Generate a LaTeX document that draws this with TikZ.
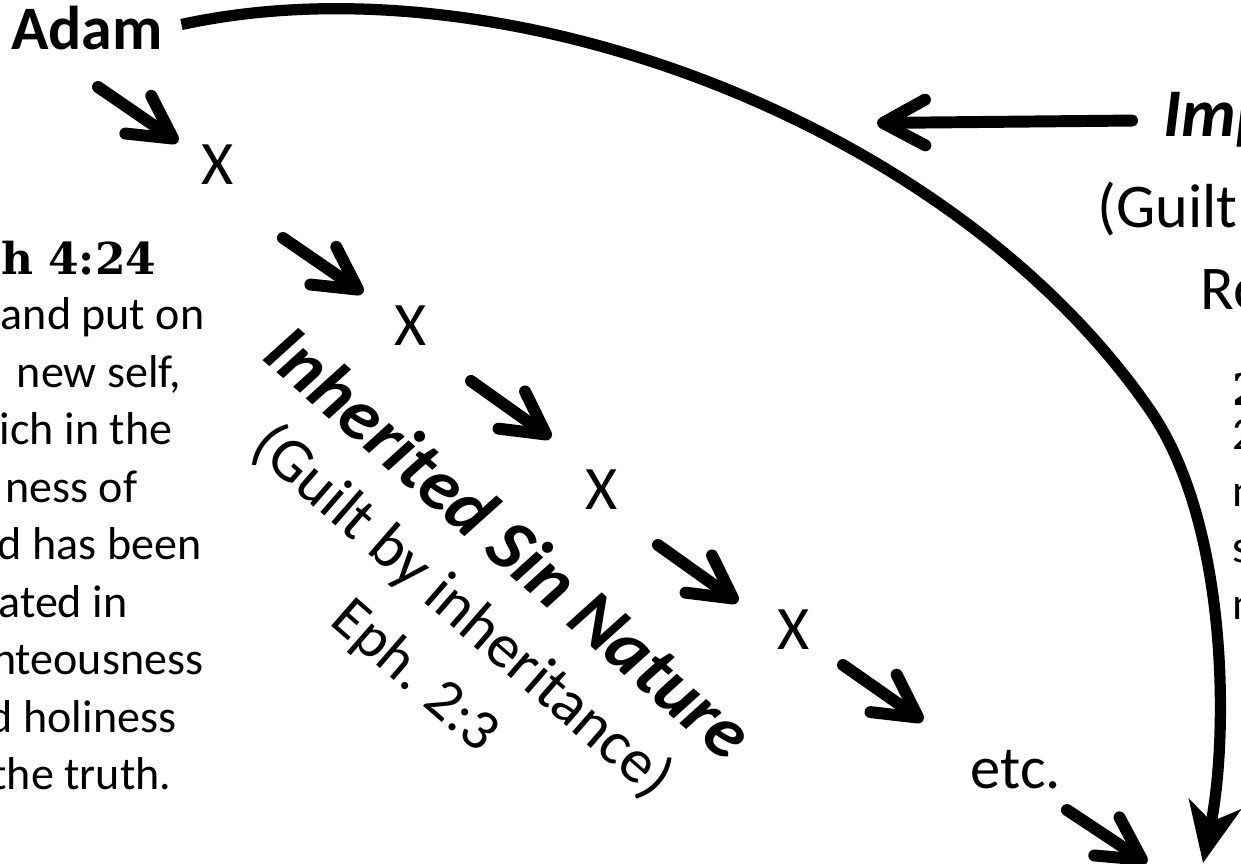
\documentclass[tikz,border=0pt]{standalone}
\usepackage{fontspec}
\setmainfont{Carlito}
\newfontfamily\slabfont{DejaVu Serif}
\usetikzlibrary{arrows.meta,calc}

\tikzset{
  flow/.style={line width=3.4pt,line cap=round,
    -{Straight Barb[length=12pt,width=13pt,line cap=round,line join=round]}},
  bigarc/.style={line width=3.2pt,-{Stealth[length=17pt,width=15pt,inset=5pt]}},
  gen/.style={inner sep=0pt,font=\fontsize{17.6}{20}\selectfont},
  verse/.style={inner sep=0pt,anchor=base east,font=\fontsize{13.1}{14.2}\selectfont},
  rverse/.style={inner sep=0pt,anchor=base west,font=\fontsize{13.1}{14.2}\selectfont},
  ref/.style={inner sep=0pt,font=\fontsize{12.5}{14}\slabfont\bfseries},
  tilted/.style={inner sep=0pt,rotate=-41}
}

\begin{document}
\begin{tikzpicture}
\useasboundingbox (0,0) rectangle (12.41,-8.64);
\clip (0,0) rectangle (12.41,-8.64);

% Adam and the line of generations
\node[inner sep=0pt,anchor=base,font=\fontsize{17.6}{20}\selectfont\bfseries] (adam) at (0.87,-0.50) {Adam};
\node[gen] (g1) at (2.18,-1.65) {X};
\node[gen] (g2) at (4.11,-3.26) {X};
\node[gen] (g3) at (6.02,-4.90) {X};
\node[gen] (g4) at (7.94,-6.30) {X};
\node[inner sep=0pt,anchor=base,font=\fontsize{17.2}{20}\selectfont] (more) at (10.16,-7.89) {etc.};

\coordinate (s1) at (0.98,-0.87);
\coordinate (s2) at (2.83,-2.38);
\coordinate (s3) at (4.71,-3.81);
\coordinate (s4) at (6.58,-5.45);
\coordinate (s5) at (8.43,-6.65);
\coordinate (s6) at (10.67,-8.10);
\draw[flow] (s1) -- ++(0.80,-0.55);
\draw[flow] (s2) -- ++(0.80,-0.55);
\draw[flow] (s3) -- ++(0.80,-0.57);
\draw[flow] (s4) -- ++(0.80,-0.57);
\draw[flow] (s5) -- ++(0.80,-0.56);
\draw[flow] (s6) -- ++(0.80,-0.53);

% tilted caption
\node[tilted,font=\fontsize{21}{24}\selectfont\bfseries\itshape] (inh) at (5.10,-5.42) {Inherited Sin Nature};
\node[tilted,font=\fontsize{17.7}{21}\selectfont] (inhguilt) at (4.62,-6.12) {(Guilt by inheritance)};
\node[tilted,font=\fontsize{16.8}{20}\selectfont] (inhref) at (4.14,-6.77) {Eph. 2:3};

% big arc
\coordinate (hit) at (8.77,-1.23);
\draw[bigarc] ($(adam.east)+(0.18,0.04)$) .. controls (5.00,0.45) and (9.50,-1.20) .. (11.50,-4.10)
  .. controls (12.30,-5.26) and (12.28,-7.40) .. (12.03,-8.63);

% right side
\node[inner sep=0pt,anchor=base west,font=\fontsize{19.4}{23}\selectfont\bfseries\itshape] (imp) at (11.63,-1.37) {Imp};
\draw[flow,shorten <=0.31cm] (imp.west) -- (hit);
\node[inner sep=0pt,anchor=base west,font=\fontsize{17.7}{21}\selectfont] (impguilt) at (10.97,-2.28) {(Guilt};
\node[inner sep=0pt,anchor=base west,font=\fontsize{17.7}{21}\selectfont] (impref) at (12.00,-3.10) {Ro};
\node[ref,anchor=base west] (rr) at (12.32,-4.06) {2};
\node[rverse] (rv1) at (12.32,-4.50) {2};
\node[rverse] (rv2) at (12.32,-5.07) {n};
\node[rverse] (rv3) at (12.32,-5.63) {s};
\node[rverse] (rv4) at (12.32,-6.20) {n};

% left side verse
\node[ref,anchor=base east] (lr) at (1.57,-2.75) {h 4:24};
\node[verse] (lv1) at (2.05,-3.300) {and put on};
\node[verse] (lv2) at (1.82,-3.875) {new self,};
\node[verse] (lv3) at (1.73,-4.450) {ich in the};
\node[verse] (lv4) at (1.38,-5.025) {ness of};
\node[verse] (lv5) at (2.02,-5.600) {d has been};
\node[verse] (lv6) at (1.28,-6.175) {ated in};
\node[verse] (lv7) at (2.04,-6.750) {nteousness};
\node[verse] (lv8) at (1.77,-7.325) {d holiness};
\node[verse] (lv9) at (1.72,-7.900) {the truth.};
\end{tikzpicture}
\end{document}
